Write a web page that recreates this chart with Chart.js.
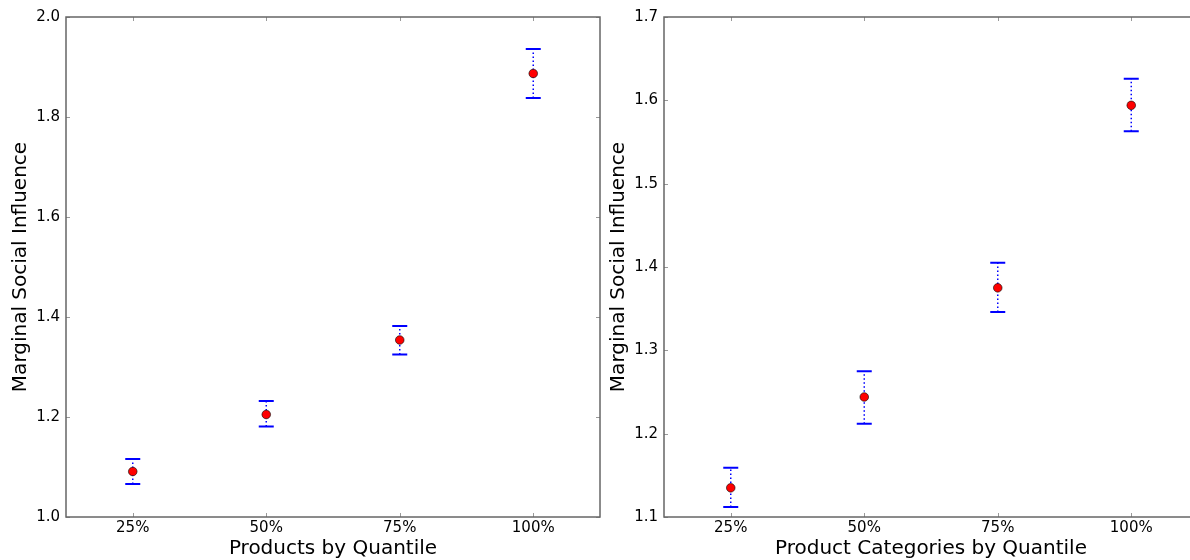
<!DOCTYPE html>
<html>
<head>
<meta charset="utf-8">
<script src="https://cdn.jsdelivr.net/npm/chart.js@4/dist/chart.umd.min.js"></script>
<style>
    html, body { margin: 0; padding: 0; background: #fff; }
    body { width: 1190px; height: 560px; overflow: hidden; position: relative; }
    .panel { position: absolute; top: 0; width: 620px; height: 560px; }
</style>
</head>
<body>
<div class="panel" style="left:0"><canvas id="products"></canvas></div>
<div class="panel" style="left:598px"><canvas id="categories"></canvas></div>
<script>
const quantiles = ['25%', '50%', '75%', '100%'];

// products: mean influence with lower / upper error bounds
const productMean = [1.091, 1.205, 1.354, 1.887];
const productLow = [1.066, 1.181, 1.325, 1.838];
const productHigh = [1.116, 1.232, 1.382, 1.936];
const productTicks = [1.0, 1.2, 1.4, 1.6, 1.8, 2.0];

// product categories
const categoryMean = [1.135, 1.244, 1.375, 1.594];
const categoryLow = [1.112, 1.212, 1.346, 1.563];
const categoryHigh = [1.159, 1.275, 1.405, 1.626];
const categoryTicks = [1.1, 1.2, 1.3, 1.4, 1.5, 1.6, 1.7];

const FONT = 'DejaVu Sans';

// frame around the plot area plus inward tick marks on all four sides
const frameAndTicks = {
    id: 'frameAndTicks',
    afterDatasetsDraw(chart) {
        const { ctx, chartArea: a, scales: { x, y } } = chart;
        ctx.save();
        ctx.strokeStyle = '#999';
        ctx.lineWidth = 1;
        ctx.beginPath();
        quantiles.forEach((q, i) => {
            const px = Math.round(x.getPixelForValue(i)) + 0.5;
            ctx.moveTo(px, a.bottom); ctx.lineTo(px, a.bottom - 4);
            ctx.moveTo(px, a.top); ctx.lineTo(px, a.top + 4);
        });
        y.ticks.forEach(t => {
            const py = Math.round(y.getPixelForValue(t.value)) + 0.5;
            ctx.moveTo(a.left, py); ctx.lineTo(a.left + 4, py);
            ctx.moveTo(a.right, py); ctx.lineTo(a.right - 4, py);
        });
        ctx.stroke();
        ctx.strokeStyle = '#666';
        ctx.lineWidth = 1.5;
        ctx.strokeRect(a.left, a.top, a.right - a.left, a.bottom - a.top);
        ctx.restore();
    }
};

// dotted vertical error bars with solid caps, drawn under the markers
const errorBars = {
    id: 'errorBars',
    beforeDatasetsDraw(chart, args, opts) {
        const { ctx, scales: { x, y } } = chart;
        ctx.save();
        ctx.strokeStyle = '#0000ff';
        opts.low.forEach((lo, i) => {
            const px = x.getPixelForValue(i);
            const yLo = y.getPixelForValue(lo);
            const yHi = y.getPixelForValue(opts.high[i]);
            ctx.lineWidth = 1.5;
            ctx.setLineDash([1.5, 2.5]);
            ctx.beginPath();
            ctx.moveTo(px, yLo); ctx.lineTo(px, yHi);
            ctx.stroke();
            ctx.setLineDash([]);
            ctx.lineWidth = 2;
            ctx.beginPath();
            ctx.moveTo(px - 7.5, yLo); ctx.lineTo(px + 7.5, yLo);
            ctx.moveTo(px - 7.5, yHi); ctx.lineTo(px + 7.5, yHi);
            ctx.stroke();
        });
        ctx.restore();
    }
};

function makeChart(id, mean, low, high, ticks, xTitle) {
    const step = +(ticks[1] - ticks[0]).toFixed(2);
    return new Chart(document.getElementById(id), {
        type: 'line',
        data: {
            labels: quantiles,
            datasets: [{
                data: mean,
                showLine: false,
                pointRadius: 4.3,
                pointBackgroundColor: '#ff0000',
                pointBorderColor: '#000',
                pointBorderWidth: 0.6,
            }],
        },
        options: {
            responsive: false,
            animation: false,
            events: [],
            layout: { padding: { top: 17, right: 20, left: 0, bottom: 0 } },
            scales: {
                x: {
                    type: 'category',
                    offset: true,
                    grid: { display: false, drawTicks: false },
                    border: { display: false },
                    ticks: { color: '#000', padding: 2, maxRotation: 0, font: { family: FONT, size: 15 } },
                    title: {
                        display: true,
                        text: xTitle,
                        color: '#000',
                        padding: { top: 0, bottom: 0 },
                        font: { family: FONT, size: 20, lineHeight: 1.1 },
                    },
                    afterFit: (scale) => { scale.height = 43; },
                },
                y: {
                    min: ticks[0],
                    max: ticks[ticks.length - 1],
                    grid: { display: false, drawTicks: false },
                    border: { display: false },
                    ticks: {
                        stepSize: step,
                        color: '#000',
                        padding: 6,
                        font: { family: FONT, size: 15 },
                        callback: (v) => v.toFixed(1),
                    },
                    title: {
                        display: true,
                        text: 'Marginal Social Influence',
                        color: '#000',
                        padding: { top: 10, bottom: 0 },
                        font: { family: FONT, size: 20, lineHeight: 1.1 },
                    },
                    afterFit: (scale) => { scale.width = 66; },
                },
            },
            plugins: {
                legend: { display: false },
                tooltip: { enabled: false },
                errorBars: { low, high },
            },
        },
        plugins: [errorBars, frameAndTicks],
    });
}

const canvases = ['products', 'categories'];
canvases.forEach(id => {
    const c = document.getElementById(id);
    c.width = 620;
    c.height = 560;
});

makeChart('products', productMean, productLow, productHigh, productTicks, 'Products by Quantile');
makeChart('categories', categoryMean, categoryLow, categoryHigh, categoryTicks, 'Product Categories by Quantile');
</script>
</body>
</html>
